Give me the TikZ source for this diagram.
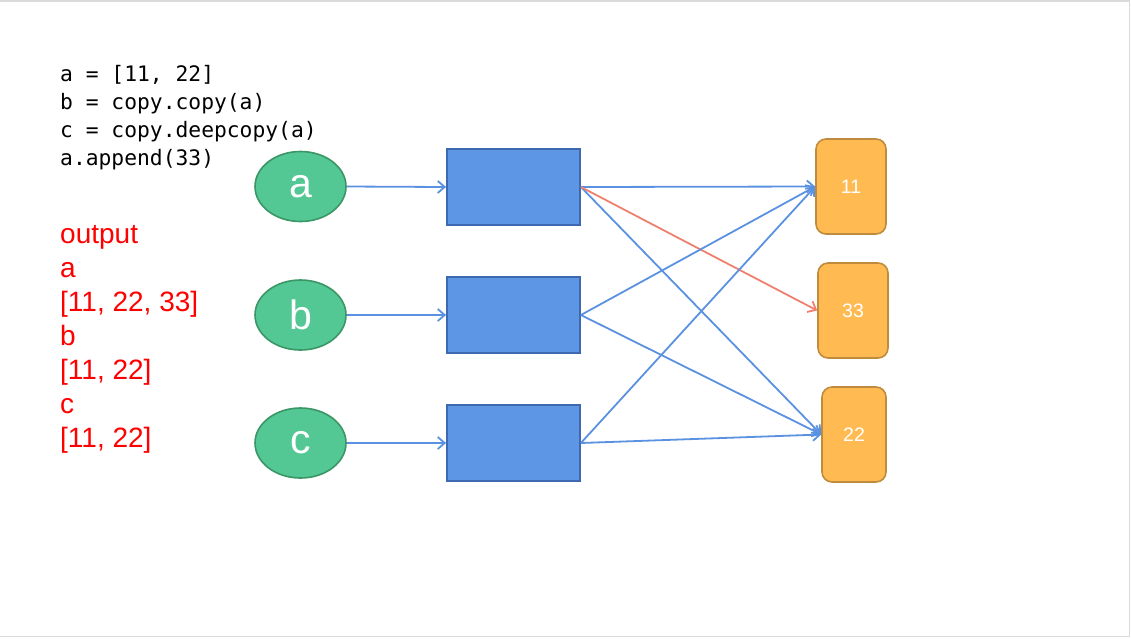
\documentclass[tikz,border=0pt]{standalone}
\usepackage{fontspec}
\setmainfont{Liberation Sans}
\setmonofont{DejaVu Sans Mono}
\usetikzlibrary{arrows.meta,shapes.geometric}
\definecolor{gfill}{RGB}{84,200,148}
\definecolor{gdraw}{RGB}{58,150,100}
\definecolor{bfill}{RGB}{94,150,230}
\definecolor{bdraw}{RGB}{60,105,175}
\definecolor{barrow}{RGB}{90,145,225}
\definecolor{rarrow}{RGB}{240,128,110}
\definecolor{ofill}{RGB}{255,186,82}
\definecolor{odraw}{RGB}{190,140,60}
\definecolor{framecol}{RGB}{218,218,218}
\tikzset{
  varnode/.style={ellipse, draw=gdraw, fill=gfill, line width=1.6pt, minimum width=91pt, minimum height=70pt, inner sep=0pt, text=white, font=\fontsize{41}{44}\selectfont},
  objbox/.style={rectangle, draw=bdraw, fill=bfill, line width=1.8pt, minimum width=133pt, minimum height=76pt, inner sep=0pt},
  valbox/.style={rectangle, rounded corners=10pt, draw=odraw, fill=ofill, line width=1.6pt, minimum height=95pt, inner sep=0pt, text=white, font=\fontsize{19.5}{22}\selectfont},
  reflink/.style={draw=barrow, line width=1.8pt, -{Straight Barb[length=7pt,width=12pt,line width=1.8pt]}},
  newlink/.style={draw=rarrow, line width=1.8pt, -{Straight Barb[length=7pt,width=12pt,line width=1.8pt]}},
  codetext/.style={anchor=base west, inner sep=0pt, font=\ttfamily\fontsize{21.3}{28}\selectfont},
  outtext/.style={anchor=base west, inner sep=0pt, text=red, font=\fontsize{28}{34}\selectfont},
}
\begin{document}
\begin{tikzpicture}[x=1pt,y=-1pt]
\useasboundingbox (0,0) rectangle (1131,638);
\draw[framecol, line width=1.5pt] (0,0.75) -- (1129.5,0.75) -- (1129.5,636.5) -- (0,636.5);

\node[codetext] (l1) at (60,81) {a = [11, 22]};
\node[codetext] (l2) at (60,109) {b = copy.copy(a)};
\node[codetext] (l3) at (60,137) {c = copy.deepcopy(a)};
\node[codetext] (l4) at (60,165) {a.append(33)};

\node[outtext] (o1) at (60,243) {output};
\node[outtext] (o2) at (60,277) {a};
\node[outtext] (o3) at (60,311) {[11, 22, 33]};
\node[outtext] (o4) at (60,345) {b};
\node[outtext] (o5) at (60,379) {[11, 22]};
\node[outtext] (o6) at (60,413) {c};
\node[outtext] (o7) at (60,447) {[11, 22]};

\node[varnode] (va) at (300.5,186.5) {a};
\node[varnode] (vb) at (300.5,315) {b};
\node[varnode] (vc) at (300.5,443) {c};

\node[objbox] (ra) at (513.5,187) {};
\node[objbox] (rb) at (513.5,315) {};
\node[objbox] (rc) at (513.5,443) {};

\node[valbox, minimum width=70pt] (n11) at (851,186.5) {11};
\node[valbox, minimum width=70pt] (n33) at (853,310.5) {33};
\node[valbox, minimum width=64pt] (n22) at (854,434.5) {22};

\draw[reflink] (va.east) -- (ra.west);
\draw[reflink] (vb.east) -- (rb.west);
\draw[reflink] (vc.east) -- (rc.west);

\draw[reflink] (ra.east) -- (n11.west);
\draw[reflink] (ra.east) -- (n22.west);
\draw[newlink] (ra.east) -- (n33.west);
\draw[reflink] (rb.east) -- (n11.west);
\draw[reflink] (rb.east) -- (n22.west);
\draw[reflink] (rc.east) -- (n11.west);
\draw[reflink] (rc.east) -- (n22.west);
\end{tikzpicture}
\end{document}
